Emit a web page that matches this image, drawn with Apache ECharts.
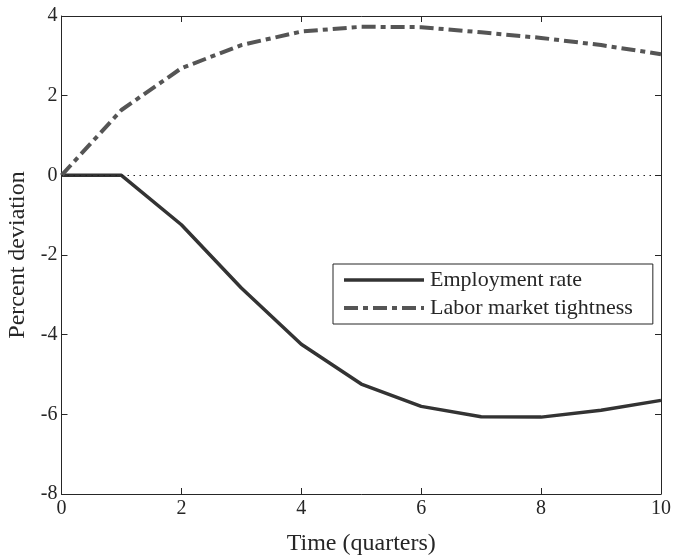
<!DOCTYPE html>
<html>
<head>
<meta charset="utf-8">
<title>Impulse responses</title>
<script src="https://cdn.jsdelivr.net/npm/echarts@6/dist/echarts.min.js"></script>
<style>
  html, body { margin: 0; padding: 0; background: #ffffff; }
  #chart { width: 673px; height: 557px; }
</style>
</head>
<body>
<div id="chart"></div>
<script>
// Quarters after the shock
const quarters = [0, 1, 2, 3, 4, 5, 6, 7, 8, 9, 10];
// Percent deviation from steady state
const employmentRate = [0, 0, -1.24, -2.83, -4.24, -5.24, -5.80, -6.06, -6.07, -5.90, -5.65];
const marketTightness = [0, 1.64, 2.69, 3.27, 3.61, 3.73, 3.72, 3.59, 3.45, 3.27, 3.04];

const xTicks = { min: 0, max: 10, interval: 2 };
const yTicks = { min: -8, max: 4, interval: 2 };

const FONT = '"Liberation Serif", "DejaVu Serif", serif';
const AXIS_COLOR = '#262626';

const EMP_STYLE = { color: '#333333', width: 3.5, type: 'solid' };
const TIGHT_STYLE = { color: '#555555', width: 4, type: [14, 5, 5, 5] };

const pairs = (ys) => quarters.map((q, i) => [q, ys[i]]);

const frameAxis = (extra) => Object.assign({
  type: 'value',
  axisLine: { show: true, onZero: false, lineStyle: { color: AXIS_COLOR, width: 1 } },
  axisTick: { show: true, inside: true, length: 6, lineStyle: { color: AXIS_COLOR, width: 1 } },
  splitLine: { show: false },
  axisLabel: { show: false }
}, extra);

const chart = echarts.init(document.getElementById('chart'), null, { renderer: 'canvas' });

chart.setOption({
  animation: false,
  backgroundColor: '#ffffff',
  grid: { left: 61.5, right: 12, top: 16, bottom: 63, containLabel: false, outerBoundsMode: 'none' },
  xAxis: [
    frameAxis({
      position: 'bottom',
      min: xTicks.min, max: xTicks.max, interval: xTicks.interval,
      name: 'Time (quarters)',
      nameLocation: 'middle',
      nameGap: 38,
      nameTextStyle: { fontFamily: FONT, fontSize: 24, color: '#262626' },
      axisLabel: { show: true, margin: 5, fontFamily: FONT, fontSize: 20, color: '#262626' }
    }),
    frameAxis({ position: 'top', min: xTicks.min, max: xTicks.max, interval: xTicks.interval })
  ],
  yAxis: [
    frameAxis({
      position: 'left',
      min: yTicks.min, max: yTicks.max, interval: yTicks.interval,
      name: 'Percent deviation',
      nameLocation: 'middle',
      nameGap: 22,
      nameTextStyle: { fontFamily: FONT, fontSize: 24, color: '#262626' },
      axisLabel: { show: true, margin: 4, fontFamily: FONT, fontSize: 20, color: '#262626' }
    }),
    frameAxis({ position: 'right', min: yTicks.min, max: yTicks.max, interval: yTicks.interval })
  ],
  legend: {
    orient: 'vertical',
    left: 333,
    top: 264,
    padding: [5, 20, 5, 9],
    itemGap: 6,
    itemWidth: 80,
    itemHeight: 14,
    backgroundColor: '#ffffff',
    borderColor: '#262626',
    borderWidth: 1,
    borderRadius: 0,
    itemStyle: { opacity: 0, borderWidth: 0 },
    textStyle: { fontFamily: FONT, fontSize: 22, color: '#262626', padding: [0, 0, 0, 1] },
    data: [
      { name: 'Employment rate', lineStyle: EMP_STYLE },
      { name: 'Labor market tightness', lineStyle: TIGHT_STYLE }
    ]
  },
  series: [
    {
      name: 'Employment rate',
      type: 'line',
      data: pairs(employmentRate),
      symbol: 'none',
      lineStyle: EMP_STYLE,
      itemStyle: { color: '#333333' },
      z: 3,
      markLine: {
        silent: true,
        symbol: ['none', 'none'],
        label: { show: false },
        lineStyle: { color: '#222222', width: 1.2, type: [1.5, 4.5] },
        data: [{ yAxis: 0 }]
      }
    },
    {
      name: 'Labor market tightness',
      type: 'line',
      data: pairs(marketTightness),
      symbol: 'none',
      lineStyle: TIGHT_STYLE,
      itemStyle: { color: '#555555' },
      z: 3
    }
  ]
});
</script>
</body>
</html>
